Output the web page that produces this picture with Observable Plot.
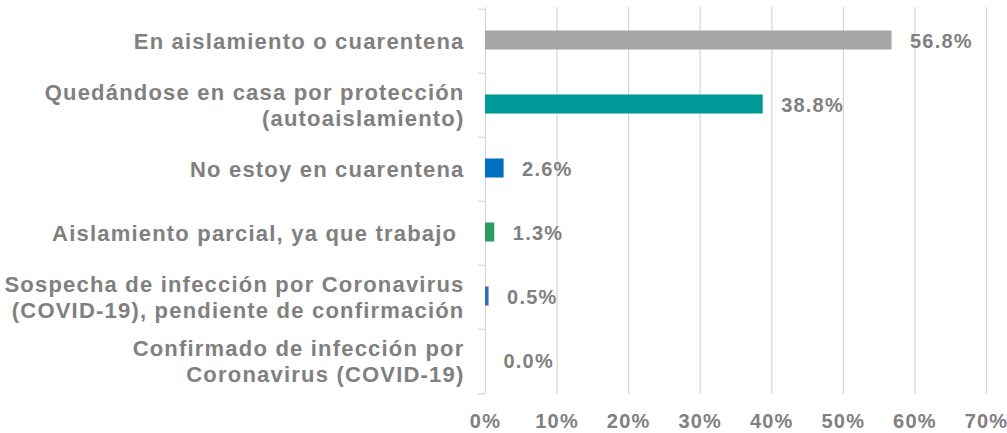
<!DOCTYPE html>
<html><head><meta charset="utf-8">
<script src="https://cdn.jsdelivr.net/npm/d3@7"></script>
<script src="https://cdn.jsdelivr.net/npm/@observablehq/plot@0.6"></script>
<style>
body{margin:0;background:#fff}
svg{font-family:"Liberation Sans", Arial, sans-serif}
</style>
</head><body><div id="chart"></div>
<script>
const categories = [
  "En aislamiento o cuarentena",
  "Quedándose en casa por protección (autoaislamiento)",
  "No estoy en cuarentena",
  "Aislamiento parcial, ya que trabajo",
  "Sospecha de infección por Coronavirus (COVID-19), pendiente de confirmación",
  "Confirmado de infección por Coronavirus (COVID-19)"
];
const labels = [
  "En aislamiento o cuarentena",
  "Quedándose en casa por protección\n(autoaislamiento)",
  "No estoy en cuarentena",
  "Aislamiento parcial, ya que trabajo\u00a0",
  "Sospecha de infección por Coronavirus\n(COVID-19), pendiente de confirmación",
  "Confirmado de infección por\nCoronavirus (COVID-19)"
];
const values = [56.8, 38.8, 2.6, 1.3, 0.5, 0.0];
const colors = ["#A5A5A5", "#009999", "#0070C0", "#2E9A5E", "#2E6DB4", "#4472C4"];
const xTicks = [0, 10, 20, 30, 40, 50, 60, 70];

const data = categories.map((c, i) => ({cat: c, label: labels[i], value: values[i]}));

const H = 433, mTop = 7, mBottom = 39;
const bw = (H - mTop - mBottom) / categories.length;

const plot = Plot.plot({
  width: 1007,
  height: H,
  marginLeft: 485,
  marginRight: 21,
  marginTop: mTop,
  marginBottom: mBottom,
  style: {fontSize: "20px", fontWeight: "bold", color: "#808080", background: "#fff", letterSpacing: "1.2px", overflow: "visible"},
  x: {domain: [0, 70], ticks: xTicks, tickFormat: d => d + "%", tickSize: 0, tickPadding: 19, label: null},
  y: {domain: categories, padding: 0, axis: null},
  color: {domain: categories, range: colors},
  marks: [
    Plot.gridX(xTicks, {stroke: "#d9d9d9", strokeOpacity: 1, strokeWidth: 1.3}),
    Plot.ruleY(categories, {y: d => d, x1: -1, x2: 0, dy: -bw / 2, stroke: "#d9d9d9", strokeWidth: 1.3}),
    Plot.ruleY([categories[categories.length - 1]], {y: d => d, x1: -1, x2: 0, dy: bw / 2, stroke: "#d9d9d9", strokeWidth: 1.3}),
    Plot.barX(data, {x: "value", y: "cat", fill: "cat", insetTop: 22.5, insetBottom: 22.5, dy: -1}),
    Plot.text(data, {x: 0, y: "cat", text: "label", textAnchor: "end", dx: -21, dy: -1, fontSize: 22, fontWeight: "bold", fill: "#808080", lineHeight: 1.18}),
    Plot.text(data, {x: "value", y: "cat", text: d => d.value.toFixed(1) + "%", textAnchor: "start", dx: 18, fontSize: 20, fontWeight: "bold", fill: "#808080"})
  ]
});
document.getElementById("chart").appendChild(plot);
</script>
</body></html>
